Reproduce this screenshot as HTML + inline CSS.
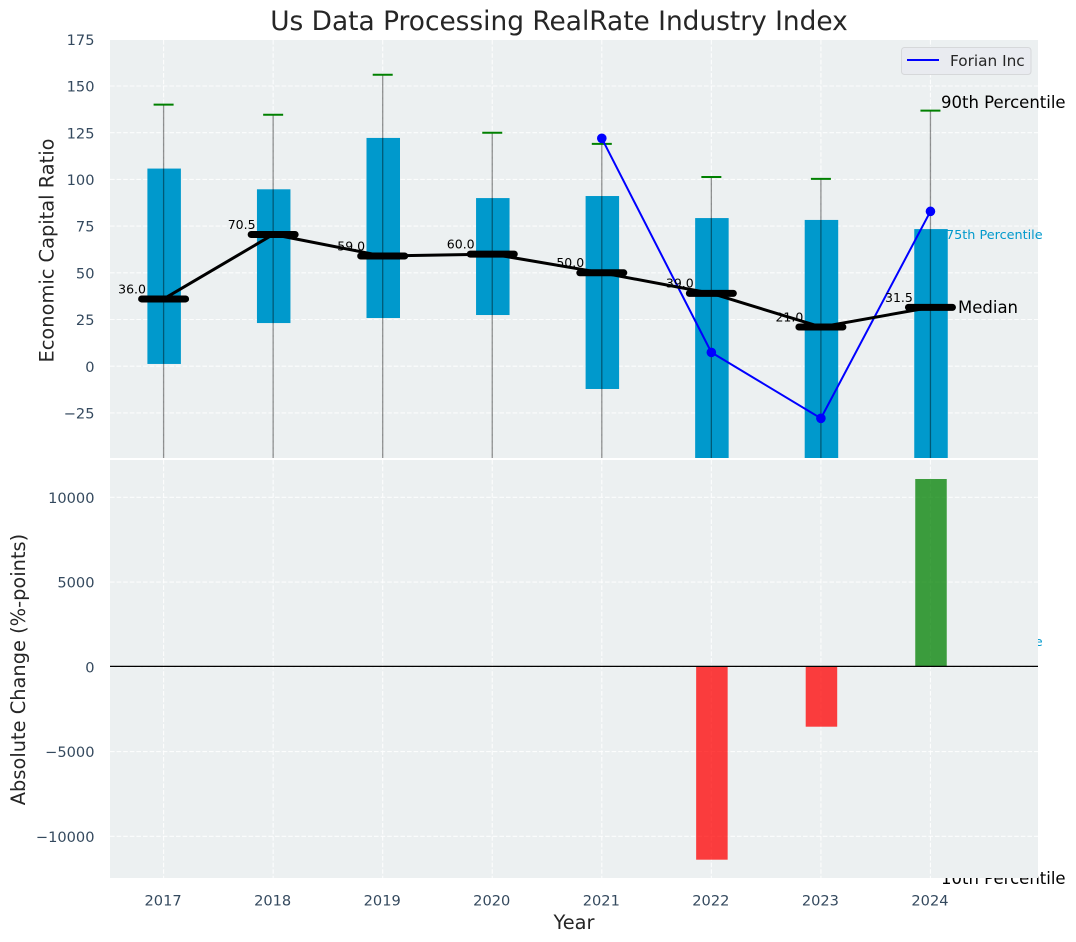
<!DOCTYPE html>
<html lang="en">
<head>
<meta charset="utf-8">
<title>Us Data Processing RealRate Industry Index</title>
<style>
html,body{margin:0;padding:0;background:#fff;}
svg{display:block;font-family:"DejaVu Sans","Liberation Sans",sans-serif;}
</style>
</head>
<body>
<svg id="chart" width="1076" height="942" viewBox="0 0 1076 942" xmlns="http://www.w3.org/2000/svg">
<defs>
<clipPath id="clip-top"><rect x="110" y="40" width="928" height="418"/></clipPath>
<clipPath id="clip-bottom"><rect x="110" y="460" width="928" height="418"/></clipPath>
</defs>
</svg>
<script>
const years = [2017, 2018, 2019, 2020, 2021, 2022, 2023, 2024];
const p90 = [140, 134.6, 156, 125, 119, 101.3, 100.3, 136.8];
const p75 = [105.8, 94.7, 122.2, 90, 91.1, 79.3, 78.3, 73.4];
const medians = [36.0, 70.5, 59.0, 60.0, 50.0, 39.0, 21.0, 31.5];
const p25 = [1.2, 23.1, 25.8, 27.4, -12.2, -60, -60, -60];
const p10 = [-100, -100, -100, -100, -100, -100, -100, -100];
const forianYears = [2021, 2022, 2023, 2024];
const forianValues = [122, 7.4, -27.9, 82.9];
const changeYears = [2022, 2023, 2024];
const changeValues = [-11380, -3534, 11080];
const topTicks = [175, 150, 125, 100, 75, 50, 25, 0, -25];
const bottomTicks = [10000, 5000, 0, -5000, -10000];

const NS = 'http://www.w3.org/2000/svg';
const svg = document.getElementById('chart');
function X(v) { return 163.6 + (v - 2017) * 109.55; }
function YT(v) { return 366.2 - v * 1.868; }
function YB(v) { return 666.8 - v * 0.01695; }
function make(tag, attrs, parent, text) {
  const el = document.createElementNS(NS, tag);
  for (const k in attrs) el.setAttribute(k, attrs[k]);
  if (text !== undefined) el.textContent = text;
  (parent || svg).appendChild(el);
  return el;
}
function fmtTick(v) { return v < 0 ? '\u2212' + Math.abs(v) : String(v); }
const GRID = {stroke: '#ffffff', 'stroke-width': 1.1, 'stroke-dasharray': '4.6 2', 'stroke-opacity': 0.85};
const TICK = {fill: '#34495e', 'font-size': 14.6};
let el;

/* top axes */
el = make('rect', {x: 110, y: 40, width: 928, height: 418, fill: '#ecf0f1'});


const topG = make('g', {'clip-path': 'url(#clip-top)'});


topTicks.forEach(function (t) {
  const g = make('line', Object.assign({x1: 110, x2: 1038, y1: YT(t), y2: YT(t)}, GRID), topG);
  
  
  const l = make('text', Object.assign({x: 94.5, y: YT(t) + 5.6, 'text-anchor': 'end'}, TICK), svg, fmtTick(t));
  
  
});
years.forEach(function (y) {
  const g = make('line', Object.assign({x1: X(y), x2: X(y), y1: 40, y2: 458}, GRID), topG);
  
  
});
years.forEach(function (y, i) {
  const b = make('rect', {x: X(y) - 16.5 + 0.3, y: YT(p75[i]), width: 33.5, height: YT(p25[i]) - YT(p75[i]), fill: '#0099cc'}, topG);
  
  
});
years.forEach(function (y, i) {
  const w = make('line', {x1: X(y), x2: X(y), y1: YT(p90[i]), y2: YT(p10[i]), stroke: '#000', 'stroke-opacity': 0.42, 'stroke-width': 1.3}, topG);
  
  
  const c = make('line', {x1: X(y) - 10, x2: X(y) + 10, y1: YT(p90[i]), y2: YT(p90[i]), stroke: '#008000', 'stroke-width': 2}, topG);
  
  
});
el = make('polyline', {points: forianYears.map(function (y, i) { return X(y) + ',' + YT(forianValues[i]); }).join(' '), fill: 'none', stroke: '#0000ff', 'stroke-width': 2}, topG);


forianYears.forEach(function (y, i) {
  const m = make('circle', {cx: X(y), cy: YT(forianValues[i]), r: 4.8, fill: '#0000ff'}, topG);
  
  
});
el = make('polyline', {points: years.map(function (y, i) { return X(y) + ',' + YT(medians[i]); }).join(' '), fill: 'none', stroke: '#000', 'stroke-width': 3}, topG);


years.forEach(function (y, i) {
  const m = make('line', {x1: X(y) - 22, x2: X(y) + 22, y1: YT(medians[i]), y2: YT(medians[i]), stroke: '#000', 'stroke-width': 7, 'stroke-linecap': 'round'}, topG);
  
  
  const l = make('text', {x: X(y) - 17.6, y: YT(medians[i]) - 5.6, 'text-anchor': 'end', 'font-size': 12.5, fill: '#000'}, svg, medians[i].toFixed(1));
  
  
});

/* percentile annotations */
el = make('text', {x: 941, y: 108, 'font-size': 16.5, fill: '#000'}, svg, '90th Percentile');


el = make('text', {x: 946, y: 239, 'font-size': 12.8, fill: '#0099cc'}, svg, '75th Percentile');


el = make('text', {x: 958, y: 313, 'font-size': 16.5, fill: '#000'}, svg, 'Median');


el = make('text', {x: 946, y: 646, 'font-size': 12.8, fill: '#0099cc'}, svg, '25th Percentile');


el = make('text', {x: 941, y: 884, 'font-size': 16.5, fill: '#000'}, svg, '10th Percentile');



/* legend */
const legend = make('g', {});


el = make('rect', {x: 901.5, y: 47.5, width: 129.5, height: 27, rx: 3, fill: '#e9ebf0', stroke: '#d6d8da', 'stroke-width': 1}, legend);


el = make('line', {x1: 907, x2: 939, y1: 60, y2: 60, stroke: '#0000ff', 'stroke-width': 2}, legend);


el = make('text', {x: 950, y: 66, 'font-size': 15.3, fill: '#262626'}, legend, 'Forian Inc');



/* bottom axes */
el = make('rect', {x: 110, y: 460, width: 928, height: 418, fill: '#ecf0f1'});


const botG = make('g', {'clip-path': 'url(#clip-bottom)'});


bottomTicks.forEach(function (t) {
  const g = make('line', Object.assign({x1: 110, x2: 1038, y1: YB(t), y2: YB(t)}, GRID), botG);
  
  
  const l = make('text', Object.assign({x: 94.5, y: YB(t) + 5.6, 'text-anchor': 'end'}, TICK), svg, fmtTick(t));
  
  
});
years.forEach(function (y) {
  const g = make('line', Object.assign({x1: X(y), x2: X(y), y1: 460, y2: 878}, GRID), botG);
  
  
  const l = make('text', Object.assign({x: X(y) - 0.5, y: 905.3, 'text-anchor': 'middle'}, TICK), svg, String(y));
  
  
});
changeYears.forEach(function (y, i) {
  const v = changeValues[i];
  const b = make('rect', {x: X(y) - 15.5 + 0.3, y: Math.min(YB(0), YB(v)), width: 31.5, height: Math.abs(YB(v) - YB(0)), fill: v < 0 ? '#ff0000' : '#008000', 'fill-opacity': 0.75}, botG);
  
  
});
el = make('line', {x1: 110, x2: 1038, y1: 666.4, y2: 666.4, stroke: '#000', 'stroke-width': 1.2}, botG);



/* titles */
el = make('text', {x: 559, y: 30, 'text-anchor': 'middle', 'font-size': 26.4, fill: '#262626'}, svg, 'Us Data Processing RealRate Industry Index');


el = make('text', {x: 574, y: 929, 'text-anchor': 'middle', 'font-size': 19.4, fill: '#262626'}, svg, 'Year');


el = make('text', {transform: 'translate(53.5 250.5) rotate(-90)', 'text-anchor': 'middle', 'font-size': 19.4, fill: '#262626'}, svg, 'Economic Capital Ratio');


el = make('text', {transform: 'translate(24.8 669.5) rotate(-90)', 'text-anchor': 'middle', 'font-size': 19.4, fill: '#262626'}, svg, 'Absolute Change (%-points)');


</script>
</body>
</html>
